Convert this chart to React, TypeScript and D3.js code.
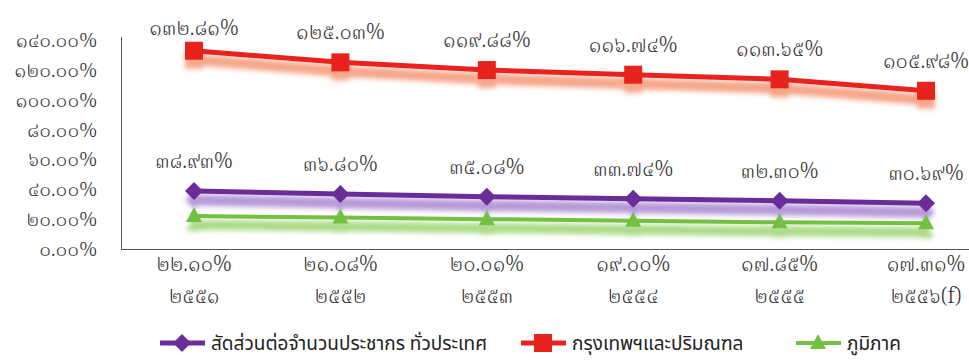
import { useMemo } from "react";
import * as d3 from "d3";

const years = ["๒๕๕๑", "๒๕๕๒", "๒๕๕๓", "๒๕๕๔", "๒๕๕๕", "๒๕๕๖(f)"];
const nationwide = [38.93, 36.8, 35.08, 33.74, 32.3, 30.69];
const bangkok = [132.81, 125.03, 119.88, 116.74, 113.65, 105.98];
const regions = [22.1, 21.08, 20.01, 19.0, 17.85, 17.31];
const yTicks = [0, 20, 40, 60, 80, 100, 120, 140];

const seriesNames = ["สัดส่วนต่อจำนวนประชากร ทั่วประเทศ", "กรุงเทพฯและปริมณฑล", "ภูมิภาค"];

const W = 969;
const H = 360;
const NUM_FONT = "'Noto Serif Thai', 'Loma', serif";
const LEGEND_FONT = "'Noto Sans Thai', 'Loma', sans-serif";

const THAI = "๐๑๒๓๔๕๖๗๘๙";
const thai = (s: string) => s.replace(/[0-9]/g, (c) => THAI[+c]);
const pct = (v: number) => thai(d3.format(".2f")(v) + "%");

function Marker({ kind, x, y, color }: { kind: string; x: number; y: number; color: string }) {
  if (kind === "square") return <rect x={x - 9} y={y - 9} width={18} height={18} fill={color} />;
  if (kind === "diamond")
    return <path d={`M${x},${y - 9}L${x + 9},${y}L${x},${y + 9}L${x - 9},${y}Z`} fill={color} />;
  return <path d={`M${x},${y - 9}L${x + 8},${y + 6}L${x - 8},${y + 6}Z`} fill={color} />;
}

export default function App() {
  const x = useMemo(() => d3.scalePoint<string>().domain(years).range([194, 926]), []);
  const y = useMemo(() => d3.scaleLinear().domain([0, 140]).range([249, 40]), []);

  const series = [
    { name: seriesNames[0], values: nationwide, color: "#6a2c98", shadow: "#8555bd", shadowOp: 0.6, kind: "diamond", width: 5 },
    { name: seriesNames[1], values: bangkok, color: "#e8231e", shadow: "#f06a3a", shadowOp: 0.6, kind: "square", width: 5 },
    { name: seriesNames[2], values: regions, color: "#74c043", shadow: "#8fcf5e", shadowOp: 0.75, kind: "triangle", width: 4 },
  ];

  const line = (vals: number[]) =>
    d3.line<number>().x((_, i) => x(years[i])!).y((d) => y(d))(vals) || "";

  const legendX = [160, 521, 796];
  const num = { fontFamily: NUM_FONT, fontWeight: 300 };
  const FS = 21;

  return (
    <svg width={W} height={H} style={{ position: "absolute", left: 0, top: 0, background: "#fff" }}>
      <defs>
        <filter id="blur" x="-10%" y="-50%" width="120%" height="200%">
          <feGaussianBlur stdDeviation="2.5" />
        </filter>
      </defs>

      {/* axes frame */}
      <line x1={121.5} x2={121.5} y1={37} y2={249} stroke="#555" strokeWidth={1} />
      <line x1={121} x2={W} y1={249.5} y2={249.5} stroke="#555" strokeWidth={1} />

      {yTicks.map((t) => (
        <text key={t} x={97} y={y(t)} dy="0.35em" textAnchor="end" fontSize={20} fill="#333" style={num}>
          {pct(t)}
        </text>
      ))}

      {/* shadows */}
      {series.map((s) => (
        <g key={"sh" + s.name} filter="url(#blur)" opacity={s.shadowOp} transform="translate(0,9)">
          <path d={line(s.values)} fill="none" stroke={s.shadow} strokeWidth={s.width + 6} />
          {s.values.map((v, i) => (
            <Marker key={i} kind={s.kind} x={x(years[i])!} y={y(v)} color={s.shadow} />
          ))}
        </g>
      ))}

      {series.map((s) => (
        <g key={s.name}>
          <path d={line(s.values)} fill="none" stroke={s.color} strokeWidth={s.width} />
          {s.values.map((v, i) => (
            <Marker key={i} kind={s.kind} x={x(years[i])!} y={y(v)} color={s.color} />
          ))}
        </g>
      ))}

      {/* data labels */}
      {series.slice(0, 2).map((s) =>
        s.values.map((v, i) => (
          <text key={s.name + i} x={x(years[i])!} y={Math.max(y(v) - 23, 35)} textAnchor="middle" fontSize={FS} fill="#333" style={num}>
            {pct(v)}
          </text>
        ))
      )}
      {regions.map((v, i) => (
        <text key={"r" + i} x={x(years[i])!} y={264} dy="0.35em" textAnchor="middle" fontSize={FS} fill="#333" style={num}>
          {pct(v)}
        </text>
      ))}
      {years.map((yr) => (
        <text key={yr} x={x(yr)!} y={296} dy="0.35em" textAnchor="middle" fontSize={FS} fill="#333" style={num}>
          {yr}
        </text>
      ))}

      {/* legend */}
      {series.map((s, i) => (
        <g key={"lg" + i}>
          <line x1={legendX[i]} x2={legendX[i] + 45} y1={343} y2={343} stroke={s.color} strokeWidth={s.width} />
          <Marker kind={s.kind} x={legendX[i] + 22} y={343} color={s.color} />
          <text x={legendX[i] + 51} y={343} dy="0.35em" fontSize={19} fill="#222" style={{ fontFamily: LEGEND_FONT }}>
            {s.name}
          </text>
        </g>
      ))}
    </svg>
  );
}
